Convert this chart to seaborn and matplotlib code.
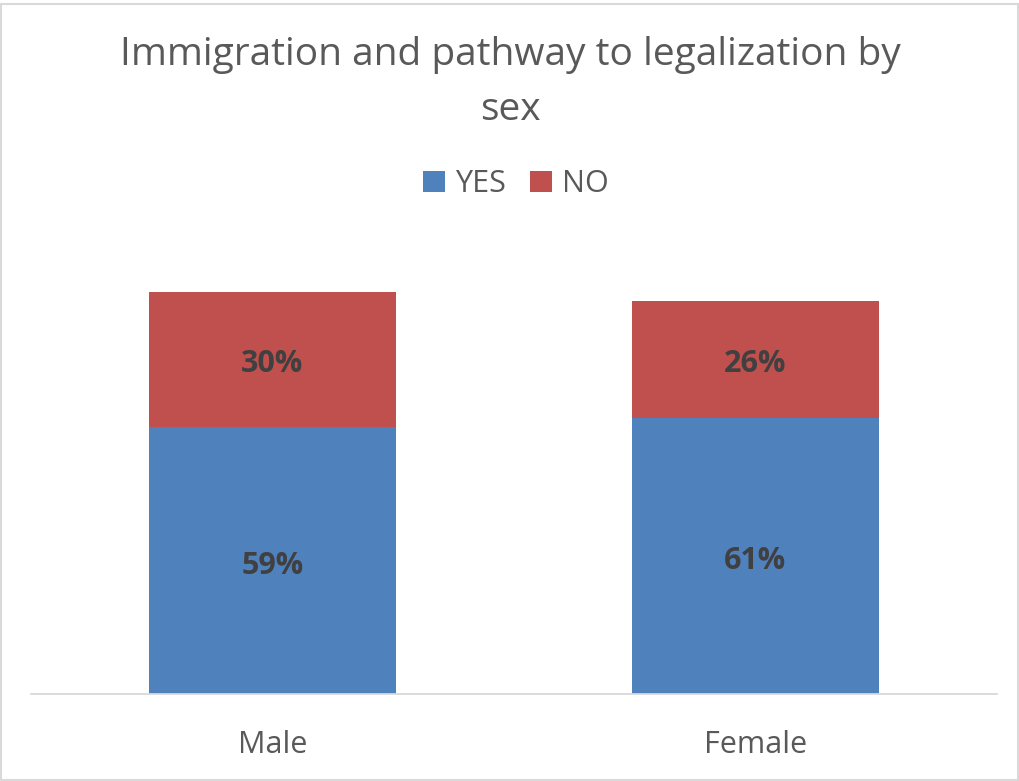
import matplotlib
matplotlib.use("Agg")
import matplotlib.pyplot as plt
import seaborn as sns
import pandas as pd
from matplotlib.patches import Rectangle, Patch

categories = ["Male", "Female"]
yes_values = [59, 61]
no_values = [30, 26]
series_names = ["YES", "NO"]

BLUE = "#4F81BD"
RED = "#C0504D"
TEXT = "#595959"
LABEL = "#404040"

sns.set_theme(style="white")
plt.rcParams["font.family"] = ["Open Sans", "DejaVu Sans"]

df = pd.DataFrame({
    "sex": categories,
    "yes": [v / 100 for v in yes_values],
    "no": [v / 100 for v in no_values],
})
df["total"] = df["yes"] + df["no"]

fig = plt.figure(figsize=(10.2, 7.81), dpi=100)
ax = fig.add_axes([31 / 1020, 87 / 781, 966 / 1020, 452 / 781])

# stacked bars: total first (NO on top), then YES over it
sns.barplot(data=df, x="sex", y="total", color=RED, width=0.51,
            saturation=1, ax=ax, linewidth=0)
sns.barplot(data=df, x="sex", y="yes", color=BLUE, width=0.51,
            saturation=1, ax=ax, linewidth=0)

ax.set_ylim(0, 1)
ax.set_xlim(-0.5, 1.5)
ax.set_xlabel("")
ax.set_ylabel("")
ax.set_yticks([])
for s in ["top", "right", "left"]:
    ax.spines[s].set_visible(False)
ax.spines["bottom"].set_color("#D9D9D9")
ax.spines["bottom"].set_linewidth(1.3)
ax.tick_params(axis="x", length=0, pad=26, labelsize=22, labelcolor=TEXT)

# value labels centred in each segment, nudged slightly down
for i, row in df.iterrows():
    ax.annotate(f"{round(row['yes'] * 100)}%", (i, row["yes"] / 2),
                xytext=(0, -3.5), textcoords="offset points", ha="center",
                va="center", fontsize=22, fontweight="bold", color=LABEL)
    ax.annotate(f"{round(row['no'] * 100)}%",
                (i, row["yes"] + row["no"] / 2), xytext=(0, -3),
                textcoords="offset points", ha="center", va="center",
                fontsize=22, fontweight="bold", color=LABEL)

fig.text(0.5, 1 - 65 / 781, "Immigration and pathway to legalization by",
         ha="center", va="baseline", fontsize=28, color=TEXT)
fig.text(0.5, 1 - 120 / 781, "sex", ha="center", va="baseline",
         fontsize=28, color=TEXT)

handles = [Patch(facecolor=BLUE, edgecolor="none"),
           Patch(facecolor=RED, edgecolor="none")]
fig.legend(handles, series_names, loc="center", ncol=2,
           bbox_to_anchor=(0.5 + 6 / 1020, 1 - 184 / 781), frameon=False,
           fontsize=22, labelcolor=TEXT, handlelength=0.7, handleheight=0.7,
           handletextpad=0.33, columnspacing=0.8)

fig.patches.append(Rectangle((1 / 1020, 1 / 781), 1017 / 1020, 776 / 781,
                             transform=fig.transFigure, fill=False,
                             edgecolor="#D9D9D9", linewidth=1.5))

fig.savefig("out.png", dpi=100, facecolor="white")
